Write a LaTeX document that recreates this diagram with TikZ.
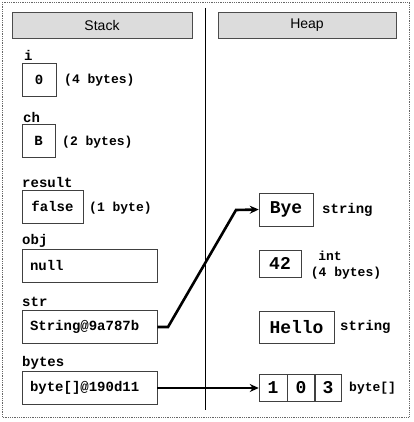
\documentclass[tikz,border=0pt]{standalone}
\usepackage{fontspec}
\newfontfamily\monofnt{Liberation Mono}
\newfontfamily\sansfnt{Liberation Sans}
\usetikzlibrary{arrows.meta}
\definecolor{hdrgray}{RGB}{220,220,220}
\begin{document}
\begin{tikzpicture}[x=1pt,y=-1pt,
  hdr/.style={draw=black!70, fill=hdrgray, minimum width=#1, minimum height=26, inner sep=0,
    font=\sansfnt\fontsize{14}{16}\selectfont},
  varlbl/.style={anchor=west, inner sep=0, font=\monofnt\bfseries\fontsize{14}{16}\selectfont},
  note/.style={anchor=west, inner sep=0, font=\monofnt\bfseries\fontsize{13}{15}\selectfont},
  valbox/.style={draw=black!75, line width=0.5pt, minimum height=33, inner sep=0,
    font=\monofnt\bfseries\fontsize{14}{16}\selectfont},
  widebox/.style={valbox, text width=119, inner xsep=8, align=left, minimum width=135},
  heapbox/.style={draw=black!75, line width=0.5pt, inner sep=0,
    font=\monofnt\bfseries\fontsize{18}{20}\selectfont},
  ptr/.style={line width=2.6pt, -{Stealth[length=9pt,width=8pt]}},
]
\useasboundingbox (0,0) rectangle (413,422);
% frame
\draw[black!60, densely dotted, line width=0.8pt] (2,2) rectangle (409,417);
\draw[black, line width=0.6pt] (205,8) -- (205,410);
% headers
\node[hdr=180] (stackhdr) at (102,25) {Stack};
\node[hdr=178] (heaphdr) at (307,25) {Heap};
% stack
\node[varlbl] (li) at (24,55) {i};
\node[valbox, minimum width=34] (vi) at (39,79.5) {0};
\node[note] (ni) at (64,80) {(4 bytes)};
\node[varlbl] (lch) at (23,117) {ch};
\node[valbox, minimum width=33] (vch) at (38.5,141) {B};
\node[note] (nch) at (62,142) {(2 bytes)};
\node[varlbl] (lres) at (22,182) {result};
\node[valbox, minimum width=61] (vres) at (52.5,206.5) {false};
\node[note] (nres) at (89,208) {(1 byte)};
\node[varlbl] (lobj) at (22,241) {obj};
\node[widebox] (vobj) at (89.5,265.5) {null};
\node[varlbl] (lstr) at (22,302) {str};
\node[widebox] (vstr) at (89.5,327) {String@9a787b};
\node[varlbl] (lbytes) at (22,363) {bytes};
\node[widebox] (vbytes) at (89.5,388) {byte[]@190d11};
% heap
\node[heapbox, minimum width=54, minimum height=33] (bye) at (286,209.5) {Bye};
\node[note, font=\monofnt\bfseries\fontsize{14}{16}\selectfont] (sbye) at (322,210) {string};
\node[heapbox, minimum width=42, minimum height=27] (n42) at (280,263.5) {42};
\node[note, anchor=center] (nint) at (330,256) {int};
\node[note, anchor=center] (nint2) at (346,273) {(4 bytes)};
\node[heapbox, minimum width=75, minimum height=32] (hello) at (296.5,327) {Hello};
\node[note, font=\monofnt\bfseries\fontsize{14}{16}\selectfont] (shello) at (340,327) {string};
\node[heapbox, minimum width=28, minimum height=27] (b1) at (273,388) {1};
\node[heapbox, minimum width=27, minimum height=27, anchor=west] (b2) at (b1.east) {0};
\node[heapbox, minimum width=26, minimum height=27, anchor=west] (b3) at (b2.east) {3};
\node[note] (sbytes) at (349,388) {byte[]};
% pointers
\coordinate (c1) at (168,327);
\coordinate (c2) at (236,210);
\draw[ptr] (vstr.east) -- (c1) -- (c2) -- (bye.west);
\draw[ptr] (vbytes.east) -- (b1.west);
\end{tikzpicture}
\end{document}
